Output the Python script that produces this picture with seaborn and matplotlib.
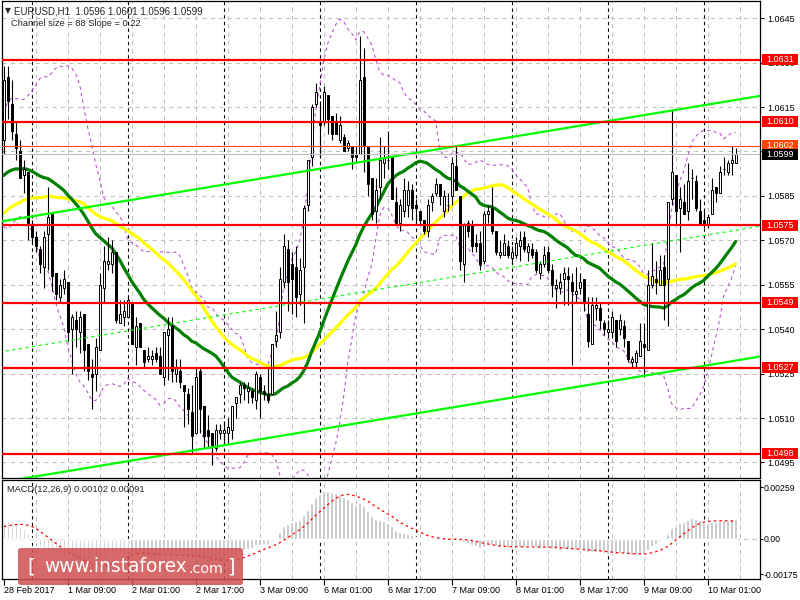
import numpy as np
import pandas as pd
import matplotlib
matplotlib.use("Agg")
import matplotlib.pyplot as plt
import seaborn as sns
from matplotlib.patches import FancyBboxPatch, Rectangle
from matplotlib.transforms import blended_transform_factory

# EURUSD H1, bars from 28 Feb 2017 17:00 to 10 Mar 2017 08:00
# closes before the window, only used to warm up the averages / MACD
warmup_close = [
    1.0555, 1.0558, 1.0562, 1.0560, 1.0556, 1.0552, 1.0557, 1.0561, 1.0565, 1.0563,
    1.0559, 1.0562, 1.0566, 1.0564, 1.0560, 1.0556, 1.0555, 1.0558, 1.0562, 1.0569,
    1.0583, 1.0586, 1.0590, 1.0592, 1.0589, 1.0586, 1.0588, 1.0591, 1.0587, 1.0588,
    1.0587, 1.0584, 1.0582, 1.0585, 1.0590, 1.0588, 1.0584, 1.0588, 1.0592, 1.0590,
    1.0593, 1.0596, 1.0594, 1.0591, 1.0597, 1.0601, 1.0599, 1.0605, 1.0607]

open_p = [
    1.0604, 1.0625, 1.0616, 1.0606, 1.0600, 1.0592, 1.0593, 1.0575, 1.0571, 1.0567,
    1.0561, 1.0572, 1.0579, 1.0559, 1.0551, 1.0554, 1.0556, 1.0540, 1.0543, 1.0539,
    1.0545, 1.0535, 1.0525, 1.0525, 1.0533, 1.0554, 1.0562, 1.0562, 1.0566, 1.0542,
    1.0544, 1.0544, 1.0549, 1.0534, 1.0542, 1.0533, 1.0530, 1.0530, 1.0532, 1.0531,
    1.0524, 1.0538, 1.0541, 1.0525, 1.0526, 1.0521, 1.0518, 1.0512, 1.0505, 1.0526,
    1.0514, 1.0506, 1.0505, 1.0500, 1.0505, 1.0505, 1.0505, 1.0506, 1.0515, 1.0518,
    1.0521, 1.0519, 1.0519, 1.0516, 1.0524, 1.0519, 1.0518, 1.0518, 1.0536, 1.0539,
    1.0556, 1.0567, 1.0562, 1.0561, 1.0552, 1.0561, 1.0582, 1.0598, 1.0616, 1.0610,
    1.0610, 1.0619, 1.0612, 1.0610, 1.0604, 1.0605, 1.0601, 1.0602, 1.0599, 1.0599,
    1.0625, 1.0602, 1.0591, 1.0580, 1.0588, 1.0596, 1.0597, 1.0598, 1.0583, 1.0576,
    1.0580, 1.0582, 1.0587, 1.0582, 1.0580, 1.0577, 1.0573, 1.0583, 1.0586, 1.0589,
    1.0580, 1.0582, 1.0585, 1.0595, 1.0585, 1.0562, 1.0576, 1.0575, 1.0569, 1.0569,
    1.0563, 1.0579, 1.0581, 1.0573, 1.0565, 1.0565, 1.0568, 1.0564, 1.0565, 1.0568,
    1.0571, 1.0566, 1.0567, 1.0566, 1.0559, 1.0562, 1.0566, 1.0560, 1.0554, 1.0554,
    1.0557, 1.0558, 1.0556, 1.0552, 1.0554, 1.0557, 1.0545, 1.0535, 1.0547, 1.0547,
    1.0542, 1.0539, 1.0539, 1.0543, 1.0540, 1.0541, 1.0536, 1.0529, 1.0529, 1.0531,
    1.0535, 1.0533, 1.0555, 1.0557, 1.0555, 1.0561, 1.0557, 1.0584, 1.0592, 1.0581,
    1.0583, 1.0580, 1.0591, 1.0590, 1.0580, 1.0577, 1.0575, 1.0579, 1.0588, 1.0586,
    1.0594, 1.0593, 1.0596, 1.0596]

high_p = [
    1.0629, 1.0629, 1.0624, 1.0610, 1.0604, 1.0597, 1.0593, 1.0577, 1.0573, 1.0568,
    1.0573, 1.0588, 1.0579, 1.0559, 1.0557, 1.0560, 1.0556, 1.0545, 1.0546, 1.0546,
    1.0545, 1.0535, 1.0530, 1.0537, 1.0559, 1.0568, 1.0571, 1.0570, 1.0566, 1.0550,
    1.0550, 1.0551, 1.0549, 1.0544, 1.0542, 1.0533, 1.0534, 1.0533, 1.0534, 1.0534,
    1.0539, 1.0544, 1.0544, 1.0530, 1.0530, 1.0521, 1.0520, 1.0521, 1.0527, 1.0527,
    1.0514, 1.0511, 1.0505, 1.0508, 1.0508, 1.0509, 1.0510, 1.0514, 1.0517, 1.0522,
    1.0522, 1.0522, 1.0520, 1.0526, 1.0525, 1.0521, 1.0527, 1.0535, 1.0546, 1.0561,
    1.0572, 1.0570, 1.0566, 1.0568, 1.0564, 1.0582, 1.0597, 1.0616, 1.0623, 1.0617,
    1.0622, 1.0619, 1.0612, 1.0613, 1.0612, 1.0606, 1.0604, 1.0602, 1.0602, 1.0639,
    1.0635, 1.0602, 1.0591, 1.0591, 1.0605, 1.0602, 1.0607, 1.0598, 1.0588, 1.0584,
    1.0591, 1.0590, 1.0589, 1.0584, 1.0580, 1.0577, 1.0584, 1.0586, 1.0591, 1.0589,
    1.0587, 1.0586, 1.0598, 1.0602, 1.0585, 1.0576, 1.0577, 1.0577, 1.0572, 1.0573,
    1.0580, 1.0582, 1.0588, 1.0573, 1.0570, 1.0572, 1.0570, 1.0568, 1.0571, 1.0573,
    1.0573, 1.0569, 1.0569, 1.0567, 1.0563, 1.0568, 1.0568, 1.0562, 1.0557, 1.0559,
    1.0561, 1.0561, 1.0559, 1.0561, 1.0559, 1.0557, 1.0551, 1.0551, 1.0551, 1.0549,
    1.0543, 1.0543, 1.0546, 1.0543, 1.0545, 1.0543, 1.0536, 1.0531, 1.0533, 1.0542,
    1.0542, 1.0560, 1.0569, 1.0563, 1.0565, 1.0565, 1.0583, 1.0614, 1.0592, 1.0588,
    1.0589, 1.0596, 1.0594, 1.0592, 1.0584, 1.0580, 1.0579, 1.0591, 1.0588, 1.0595,
    1.0598, 1.0597, 1.0602, 1.0601]

low_p = [
    1.0599, 1.0611, 1.0604, 1.0597, 1.0591, 1.0586, 1.0570, 1.0569, 1.0566, 1.0559,
    1.0554, 1.0560, 1.0553, 1.0550, 1.0549, 1.0552, 1.0536, 1.0525, 1.0534, 1.0532,
    1.0526, 1.0523, 1.0513, 1.0519, 1.0533, 1.0549, 1.0560, 1.0559, 1.0542, 1.0542,
    1.0541, 1.0544, 1.0535, 1.0528, 1.0534, 1.0527, 1.0529, 1.0528, 1.0529, 1.0525,
    1.0521, 1.0523, 1.0522, 1.0522, 1.0520, 1.0507, 1.0508, 1.0498, 1.0505, 1.0505,
    1.0500, 1.0500, 1.0494, 1.0499, 1.0503, 1.0501, 1.0501, 1.0503, 1.0510, 1.0515,
    1.0516, 1.0515, 1.0515, 1.0513, 1.0510, 1.0516, 1.0515, 1.0518, 1.0534, 1.0537,
    1.0554, 1.0546, 1.0545, 1.0544, 1.0548, 1.0542, 1.0580, 1.0595, 1.0615, 1.0598,
    1.0609, 1.0606, 1.0604, 1.0606, 1.0603, 1.0600, 1.0600, 1.0594, 1.0596, 1.0599,
    1.0593, 1.0585, 1.0577, 1.0576, 1.0584, 1.0591, 1.0594, 1.0584, 1.0576, 1.0573,
    1.0578, 1.0578, 1.0577, 1.0576, 1.0575, 1.0572, 1.0571, 1.0580, 1.0585, 1.0582,
    1.0578, 1.0580, 1.0582, 1.0587, 1.0560, 1.0556, 1.0571, 1.0566, 1.0566, 1.0560,
    1.0562, 1.0576, 1.0572, 1.0565, 1.0564, 1.0565, 1.0564, 1.0562, 1.0564, 1.0563,
    1.0566, 1.0563, 1.0564, 1.0559, 1.0557, 1.0561, 1.0559, 1.0551, 1.0547, 1.0552,
    1.0548, 1.0548, 1.0528, 1.0549, 1.0552, 1.0546, 1.0534, 1.0535, 1.0543, 1.0540,
    1.0538, 1.0538, 1.0537, 1.0534, 1.0538, 1.0534, 1.0529, 1.0527, 1.0527, 1.0531,
    1.0524, 1.0533, 1.0554, 1.0552, 1.0555, 1.0543, 1.0541, 1.0582, 1.0575, 1.0566,
    1.0579, 1.0577, 1.0584, 1.0580, 1.0575, 1.0574, 1.0574, 1.0579, 1.0583, 1.0586,
    1.0592, 1.0592, 1.0592, 1.0596]

close_p = [
    1.0624, 1.0617, 1.0607, 1.0601, 1.0591, 1.0594, 1.0576, 1.0571, 1.0568, 1.0562,
    1.0571, 1.0578, 1.0558, 1.0552, 1.0555, 1.0557, 1.0539, 1.0544, 1.0540, 1.0544,
    1.0533, 1.0526, 1.0524, 1.0534, 1.0555, 1.0563, 1.0563, 1.0566, 1.0543, 1.0545,
    1.0546, 1.0550, 1.0535, 1.0541, 1.0534, 1.0529, 1.0531, 1.0531, 1.0530, 1.0525,
    1.0539, 1.0540, 1.0526, 1.0527, 1.0522, 1.0519, 1.0513, 1.0504, 1.0524, 1.0513,
    1.0504, 1.0504, 1.0501, 1.0506, 1.0506, 1.0506, 1.0507, 1.0514, 1.0517, 1.0521,
    1.0520, 1.0520, 1.0517, 1.0525, 1.0519, 1.0518, 1.0516, 1.0535, 1.0538, 1.0557,
    1.0568, 1.0556, 1.0557, 1.0551, 1.0560, 1.0581, 1.0597, 1.0615, 1.0620, 1.0609,
    1.0620, 1.0611, 1.0606, 1.0606, 1.0609, 1.0600, 1.0603, 1.0598, 1.0598, 1.0624,
    1.0602, 1.0589, 1.0579, 1.0587, 1.0597, 1.0598, 1.0597, 1.0584, 1.0576, 1.0582,
    1.0587, 1.0587, 1.0581, 1.0581, 1.0577, 1.0573, 1.0582, 1.0585, 1.0589, 1.0585,
    1.0585, 1.0582, 1.0596, 1.0587, 1.0563, 1.0575, 1.0573, 1.0568, 1.0568, 1.0562,
    1.0579, 1.0580, 1.0573, 1.0566, 1.0566, 1.0569, 1.0565, 1.0566, 1.0569, 1.0570,
    1.0567, 1.0568, 1.0565, 1.0560, 1.0562, 1.0565, 1.0560, 1.0555, 1.0555, 1.0556,
    1.0559, 1.0557, 1.0553, 1.0553, 1.0556, 1.0549, 1.0536, 1.0548, 1.0548, 1.0543,
    1.0540, 1.0540, 1.0544, 1.0536, 1.0543, 1.0537, 1.0530, 1.0530, 1.0532, 1.0536,
    1.0534, 1.0555, 1.0558, 1.0556, 1.0560, 1.0555, 1.0583, 1.0593, 1.0580, 1.0584,
    1.0579, 1.0590, 1.0591, 1.0581, 1.0575, 1.0576, 1.0578, 1.0587, 1.0586, 1.0593,
    1.0594, 1.0596, 1.0597, 1.0599]

date_labels = ["28 Feb 2017", "1 Mar 09:00", "2 Mar 01:00", "2 Mar 17:00", "3 Mar 09:00",
               "6 Mar 01:00", "6 Mar 17:00", "7 Mar 09:00", "8 Mar 01:00", "8 Mar 17:00",
               "9 Mar 09:00", "10 Mar 01:00"]
label_bars = [0, 16, 32, 48, 64, 80, 96, 112, 128, 144, 160, 176]
day_starts = [7, 31, 55, 79, 103, 127, 151, 175]

price_ticks = [1.0645, 1.0630, 1.0615, 1.0600, 1.0585, 1.0570, 1.0555,
               1.0540, 1.0525, 1.0510, 1.0495]
levels = [1.0631, 1.0610, 1.0575, 1.0549, 1.0527, 1.0498]
ask_price = 1.0602
bid_price = 1.0599

# linear regression channel: upper line at bar 0, slope per bar, width
channel_top0 = 1.05765
channel_slope = 0.00002234
channel_size = 0.0088

macd_ticks = [0.00259, 0.0, -0.00175]
macd_tick_labels = ["0.00259", "0.00", "-0.00175"]

# ---- indicators ----
n = len(close_p)
bars = np.arange(n)
k = len(warmup_close)
closes = pd.Series(warmup_close + close_p)
ind = pd.DataFrame({"bar": bars})
ind["ma30"] = closes.rolling(30).mean().iloc[k:].values
ind["ma50"] = closes.rolling(50).mean().iloc[k:].values
mid = closes.rolling(20).mean()
sd = closes.rolling(20).std(ddof=0)
ind["bb_up"] = (mid + 2 * sd).iloc[k:].values
ind["bb_lo"] = (mid - 2 * sd).iloc[k:].values
macd_full = closes.ewm(span=12, adjust=False).mean() - closes.ewm(span=26, adjust=False).mean()
ind["macd"] = macd_full.iloc[k:].values
ind["signal"] = macd_full.rolling(9).mean().iloc[k:].values

# ---- figure ----
sns.set_style("white")
plt.rcParams["font.family"] = ["Liberation Sans", "DejaVu Sans"]

fig = plt.figure(figsize=(8, 6), dpi=100)
ax = fig.add_axes([2 / 800, 122 / 600, 758 / 800, 477 / 600])
axm = fig.add_axes([2 / 800, 21 / 600, 758 / 800, 99 / 600])

xlim = (-0.43, 189.1)
grid_kw = dict(color="#c0c0c0", lw=0.75, ls=(0, (4, 4)), zorder=0.5)
sep_kw = dict(color="black", lw=0.8, ls=(0, (3, 3)), zorder=0.6)

for a in (ax, axm):
    a.set_facecolor("white")
    for b in range(8, 190, 8):
        a.axvline(b, **grid_kw)
    for b in day_starts:
        a.axvline(b, **sep_kw)
    for s in a.spines.values():
        s.set_visible(True)
        s.set_color("black")
        s.set_linewidth(0.9)
    a.set_xlim(*xlim)

for p in price_ticks:
    ax.axhline(p, **grid_kw)
axm.axhline(0, **grid_kw)

# bollinger bands and moving averages
sns.lineplot(data=ind, x="bar", y="bb_up", ax=ax, color="#ba55d3", lw=0.8,
             ls=(0, (3, 3)), zorder=1.5)
sns.lineplot(data=ind, x="bar", y="bb_lo", ax=ax, color="#ba55d3", lw=0.8,
             ls=(0, (3, 3)), zorder=1.5)
sns.lineplot(data=ind, x="bar", y="ma50", ax=ax, color="#ffff00", lw=2.3, zorder=2)
sns.lineplot(data=ind, x="bar", y="ma30", ax=ax, color="#008000", lw=2.3, zorder=2.1)

# candles
o = np.array(open_p)
c = np.array(close_p)
bull = c >= o
ax.vlines(bars, low_p, high_p, color="black", lw=0.8, zorder=3)
ax.bar(bars, np.abs(c - o), bottom=np.minimum(o, c), width=0.55,
       color=np.where(bull, "white", "black"), edgecolor="black", lw=0.7, zorder=3.5)

# regression channel
cx = np.array([xlim[0] - 1, xlim[1] + 1])
upper = channel_top0 + channel_slope * cx
ax.plot(cx, upper, color="#00ff00", lw=1.6, zorder=4)
ax.plot(cx, upper - channel_size, color="#00ff00", lw=1.6, zorder=4)
ax.plot(cx, upper - channel_size / 2, color="#00ff00", lw=0.8, ls=(0, (3, 3)), zorder=4)

# horizontal levels
for lv in levels:
    ax.axhline(lv, color="#ff0000", lw=1.6, zorder=4.5)
ax.axhline(ask_price, color="#ff4500", lw=0.8, zorder=4.4)
ax.axhline(bid_price, color="#c0c0c0", lw=0.8, zorder=4.4)

ymin, ymax = 1.048975, 1.065079
ax.set_ylim(ymin, ymax)
ax.yaxis.tick_right()
ax.set_yticks(price_ticks)
ax.set_yticklabels([f"{p:.4f}" for p in price_ticks])
ax.tick_params(axis="y", direction="out", length=3, width=0.8, pad=2,
               labelsize=6.5, colors="black", left=False, right=True)
ax.tick_params(axis="x", length=0, labelbottom=False)
ax.set_xlabel("")
ax.set_ylabel("")

# price labels on the right scale (boxes about 36 x 11 px)
tr = blended_transform_factory(ax.transAxes, ax.transData)
box_h = 11 / 477 * (ymax - ymin)
label_boxes = [(lv, "#ff0000") for lv in levels] + [(ask_price, "#ff4500"), (bid_price, "black")]
for lv, col in label_boxes:
    ax.add_patch(Rectangle((760 / 758, lv - box_h / 2), 36 / 758, box_h, transform=tr,
                           fc=col, ec="none", clip_on=False, zorder=9))
    ax.text(778 / 758, lv, f"{lv:.4f}", transform=tr, ha="center", va="center",
            color="white", fontsize=6.5, clip_on=False, zorder=10)

# MACD panel
axm.bar(bars, ind["macd"], width=0.6, color="#c0c0c0", zorder=2)
sns.lineplot(data=ind, x="bar", y="signal", ax=axm, color="#ff0000", lw=0.9,
             ls=(0, (2, 2.5)), zorder=3)
axm.set_ylim(-0.001995, 0.00294)
axm.yaxis.tick_right()
axm.set_yticks(macd_ticks)
axm.set_yticklabels(macd_tick_labels)
axm.tick_params(axis="y", direction="out", length=2, width=0.8, pad=0.5,
                labelsize=6.3, colors="black", left=False, right=True)
axm.set_xticks(label_bars)
axm.set_xticklabels(date_labels, ha="left")
axm.tick_params(axis="x", direction="out", length=4, width=0.8, pad=1,
                labelsize=6.5, colors="black", bottom=True)
axm.set_xlabel("")
axm.set_ylabel("")


def fx(x):
    return x / 800


def fy(y):
    return 1 - y / 600


# header texts
fig.text(fx(5), fy(11), "\u25bc", fontsize=5.5, family="DejaVu Sans", va="center", ha="left")
fig.text(fx(14), fy(11), "EURUSD,H1  1.0596 1.0601 1.0596 1.0599", fontsize=7,
         va="center", ha="left")
fig.text(fx(11), fy(24), "Channel size = 88 Slope = 0.22", fontsize=6.7,
         va="center", ha="left")
fig.text(fx(7), fy(489), "MACD(12,26,9) 0.00102 0.00091", fontsize=6.7,
         va="center", ha="left")

# watermark
wm = FancyBboxPatch((fx(18), fy(585)), fx(225), 37 / 600,
                    boxstyle="round,pad=0,rounding_size=0.004",
                    transform=fig.transFigure, fc="#cf4f4f", ec="none",
                    alpha=0.85, zorder=20)
fig.patches.append(wm)
wm_kw = dict(color="white", va="center", ha="left", family="DejaVu Sans", zorder=21)
fig.text(fx(27), fy(567), "[", fontsize=14, **wm_kw)
fig.text(fx(44), fy(567), "www.instaforex", fontsize=13.4, **wm_kw)
fig.text(fx(189), fy(569), ".com", fontsize=10.3, **wm_kw)
fig.text(fx(227), fy(567), "]", fontsize=14, **wm_kw)

fig.savefig("out.png", dpi=100, facecolor="white")
